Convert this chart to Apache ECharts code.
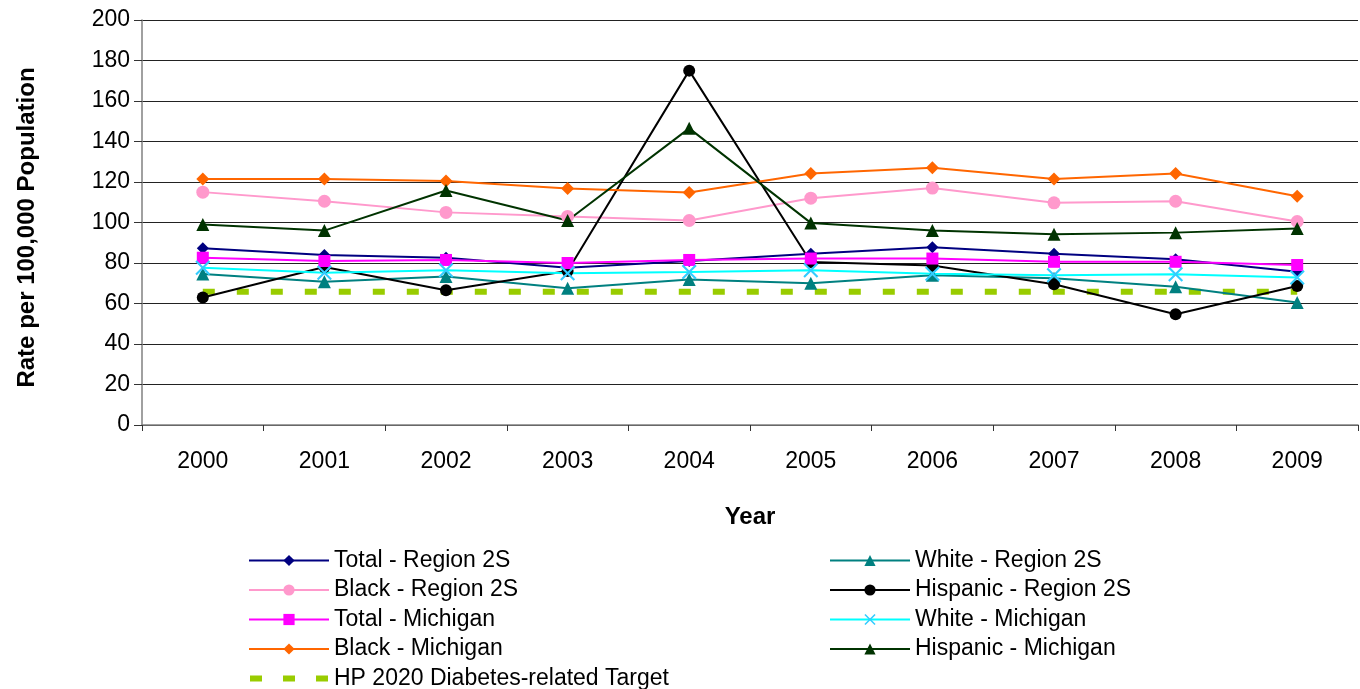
<!DOCTYPE html>
<html>
<head>
<meta charset="utf-8">
<script src="https://cdn.jsdelivr.net/npm/echarts@6/dist/echarts.min.js"></script>
<style>
  html, body { margin: 0; padding: 0; background: #fff; }
  #chart { width: 1360px; height: 689px; }
</style>
</head>
<body>
<div id="chart"></div>
<script>
// data
var years = ['2000', '2001', '2002', '2003', '2004', '2005', '2006', '2007', '2008', '2009'];
var yTicks = [0, 20, 40, 60, 80, 100, 120, 140, 160, 180, 200];

var totalRegion = [87.3, 83.9, 82.6, 77.7, 81.0, 84.6, 87.8, 84.6, 81.8, 75.7];
var blackRegion = [115.0, 110.5, 105.0, 103.0, 101.0, 112.0, 117.0, 109.7, 110.5, 100.5];
var totalMich = [82.6, 81.0, 81.5, 80.0, 81.5, 82.2, 82.2, 80.6, 80.6, 79.0];
var blackMich = [121.5, 121.5, 120.5, 116.8, 114.8, 124.2, 127.0, 121.5, 124.2, 113.0];
var whiteRegion = [74.6, 70.8, 73.3, 67.5, 71.8, 70.0, 74.0, 72.5, 68.3, 60.5];
var hispRegion = [63.0, 78.0, 66.5, 76.0, 175.0, 80.5, 78.8, 69.5, 54.7, 68.6];
var whiteMich = [77.7, 75.2, 76.4, 74.9, 75.6, 76.4, 74.7, 74.0, 74.4, 72.8];
var hispMich = [99.0, 96.0, 115.8, 101.0, 146.5, 99.8, 96.0, 94.2, 95.0, 97.0];
var target = [65.8, 65.8, 65.8, 65.8, 65.8, 65.8, 65.8, 65.8, 65.8, 65.8];

var chart = echarts.init(document.getElementById('chart'));

var xMark = 'path://M0,1L1,0L5,4L9,0L10,1L6,5L10,9L9,10L5,6L1,10L0,9L4,5Z';
// three dashes for the target legend entry (first sliver only sets the box height)
var dashIcon = 'path://M0,0L0.01,0L0.01,14L0,14Z M0,4H12V10H0Z M33,4H45V10H33Z M66,4H78V10H66Z';

function line(name, data, color, symbol, size, markColor) {
  return {
    name: name,
    type: 'line',
    data: data,
    symbol: symbol,
    symbolSize: size,
    showAllSymbol: true,
    lineStyle: { color: color, width: 2 },
    itemStyle: { color: markColor || color },
    emphasis: { disabled: true },
    animation: false
  };
}

var font = 'Liberation Sans, Arial, sans-serif';
var legendText = { fontSize: 23, lineHeight: 23, color: '#000', fontFamily: font, padding: [0, 0, 0, 0] };

var option = {
  backgroundColor: '#fff',
  textStyle: { fontFamily: font },
  grid: { left: 142, top: 20, right: 2, bottom: 689 - 425 },
  legend: [{
    orient: 'vertical',
    left: 243,
    top: 544,
    height: 160,
    itemWidth: 80,
    itemHeight: 14,
    itemGap: 6.5,
    textStyle: legendText,
    data: ['Total - Region 2S', 'Black - Region 2S', 'Total - Michigan', 'Black - Michigan',
      { name: 'HP 2020 Diabetes-related Target', icon: dashIcon }]
  }, {
    orient: 'vertical',
    left: 824,
    top: 544,
    height: 160,
    itemWidth: 80,
    itemHeight: 14,
    itemGap: 6.5,
    textStyle: legendText,
    data: ['White - Region 2S', 'Hispanic - Region 2S', 'White - Michigan', 'Hispanic - Michigan']
  }],
  xAxis: {
    type: 'category',
    data: years,
    boundaryGap: true,
    name: 'Year',
    nameLocation: 'middle',
    nameGap: 80,
    nameTextStyle: { fontSize: 24, fontWeight: 'bold', color: '#000', fontFamily: font },
    axisLine: { lineStyle: { color: '#808080', width: 1.5 } },
    axisTick: { show: true, length: 6, lineStyle: { color: '#333' } },
    axisLabel: { fontSize: 23, color: '#000', margin: 25, fontFamily: font }
  },
  yAxis: {
    type: 'value',
    min: yTicks[0],
    max: yTicks[yTicks.length - 1],
    interval: 20,
    name: 'Rate per 100,000 Population',
    nameLocation: 'middle',
    nameGap: 103,
    nameTextStyle: { fontSize: 24, fontWeight: 'bold', color: '#000', fontFamily: font, padding: [0, 0, 0, -10] },
    axisLine: { show: true, lineStyle: { color: '#808080', width: 1.5 } },
    axisTick: { show: true, length: 8, lineStyle: { color: '#333' } },
    axisLabel: { fontSize: 23, color: '#000', margin: 12, fontFamily: font },
    splitLine: { lineStyle: { color: '#222', width: 1 } }
  },
  series: [
    line('Total - Region 2S', totalRegion, '#000080', 'diamond', 12),
    line('White - Region 2S', whiteRegion, '#008080', 'triangle', 13),
    line('Black - Region 2S', blackRegion, '#FF99CC', 'circle', 13),
    line('Hispanic - Region 2S', hispRegion, '#000000', 'circle', 12),
    line('Total - Michigan', totalMich, '#FF00FF', 'rect', 12),
    line('White - Michigan', whiteMich, '#00FFFF', xMark, 15, '#33CCFF'),
    line('Black - Michigan', blackMich, '#FF6600', 'diamond', 13),
    line('Hispanic - Michigan', hispMich, '#003300', 'triangle', 13),
    {
      name: 'HP 2020 Diabetes-related Target',
      type: 'line',
      data: target,
      symbol: 'none',
      z: 1,
      lineStyle: { color: '#99CC00', width: 6, type: [12, 22], dashOffset: 0 },
      itemStyle: { color: '#99CC00' },
      emphasis: { disabled: true },
      animation: false
    }
  ]
};

chart.setOption(option);
</script>
</body>
</html>
